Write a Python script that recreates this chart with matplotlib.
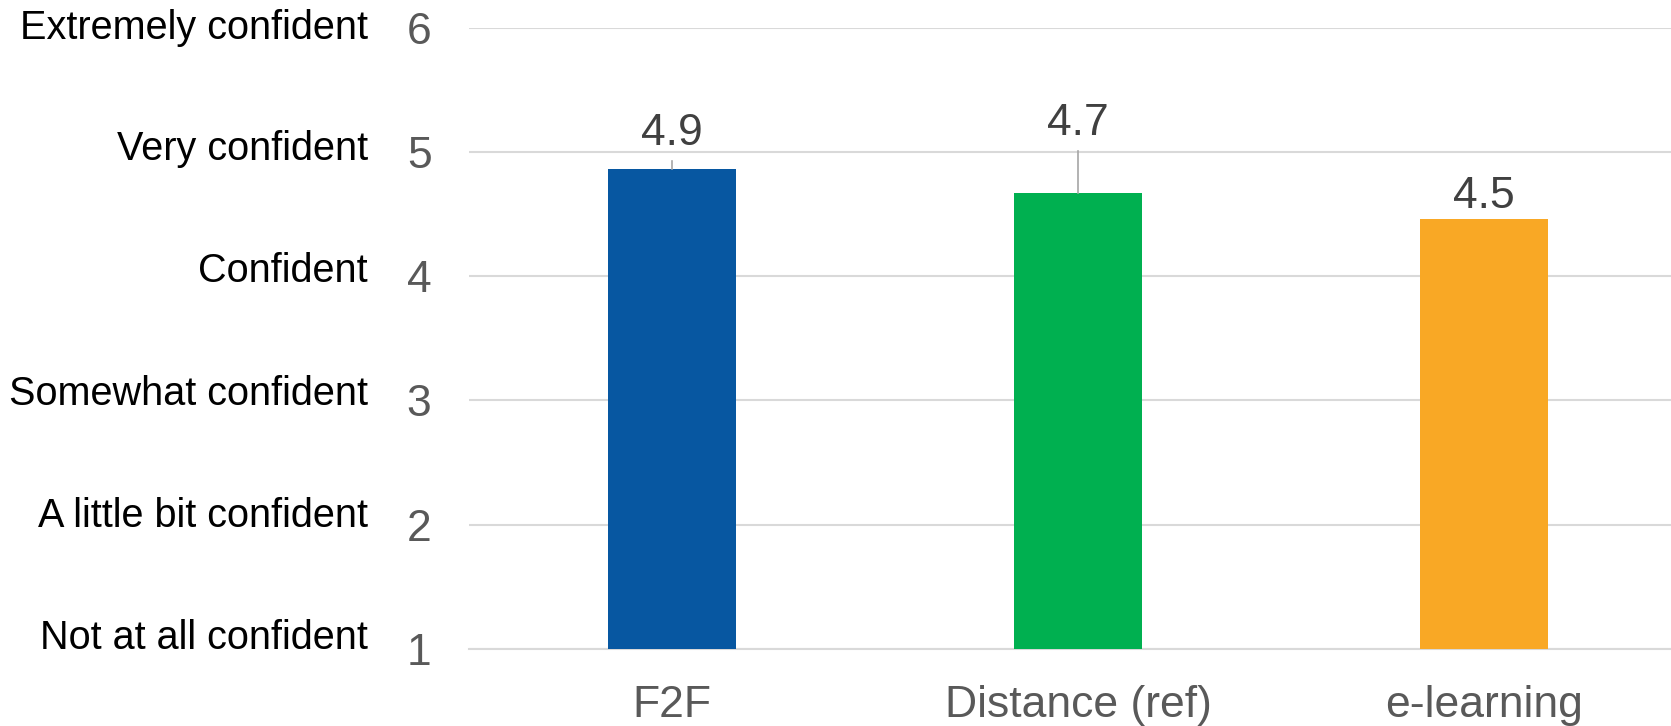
# -*- coding: utf-8 -*-
import numpy as np
import matplotlib
matplotlib.use("Agg")
import matplotlib.pyplot as plt

plt.rcParams['font.family'] = ['Liberation Sans', 'DejaVu Sans']

############################
# data
############################
categories = ["F2F", "Distance (ref)", "e-learning"]
scores = [4.86, 4.67, 4.46]
score_labels = ["4.9", "4.7", "4.5"]
label_y = [5.15, 5.23, 4.64]          # where the value label sits
leader = [True, True, False]          # draw a leader line to the bar
colors = ["#0757A1", "#00B050", "#F9A825"]

scale_ticks = [1, 2, 3, 4, 5, 6]
scale_names = ["Not at all confident", "A little bit confident", "Somewhat confident",
               "Confident", "Very confident", "Extremely confident"]
scale_name_y = [1.09, 2.07, 3.05, 4.04, 5.02, 6.0]


fig = plt.figure(figsize=(16.71, 7.26), dpi=100)
ax = fig.add_axes([0.2807, 0.1061, 0.7193, 0.8557])

x = np.arange(len(categories))
ax.bar(x, scores, width=0.315, color=colors, zorder=3)

ax.set_xlim(-0.5, 2.46)
ax.set_ylim(1, 6)
ax.set_yticks(scale_ticks)
ax.set_xticks(x)
ax.set_xticklabels(categories)
ax.tick_params(axis='y', length=0, pad=27, labelsize=32, labelcolor="#595959")
ax.tick_params(axis='x', length=0, pad=26, labelsize=32, labelcolor="#595959")

ax.grid(axis='y', color="#d9d9d9", linewidth=1.5, zorder=0)
for s in ["top", "right", "left"]:
    ax.spines[s].set_visible(False)
ax.spines["bottom"].set_color("#d9d9d9")
ax.spines["bottom"].set_linewidth(1.5)

# value labels
for i in range(len(categories)):
    ax.text(x[i], label_y[i], score_labels[i], ha='center', va='center',
            fontsize=32, color="#404040", zorder=4)
    if leader[i]:
        ax.plot([x[i], x[i]], [label_y[i] - 0.22, scores[i]], color="#a6a6a6",
                linewidth=1.2, zorder=4)

# verbal scale names on the left
for yv, name in zip(scale_name_y, scale_names):
    ax.text(-0.5 - 101 / 406.0, yv, name, ha='right', va='center',
            fontsize=28.5, color="black", clip_on=False)

fig.savefig("out.png", dpi=100)
